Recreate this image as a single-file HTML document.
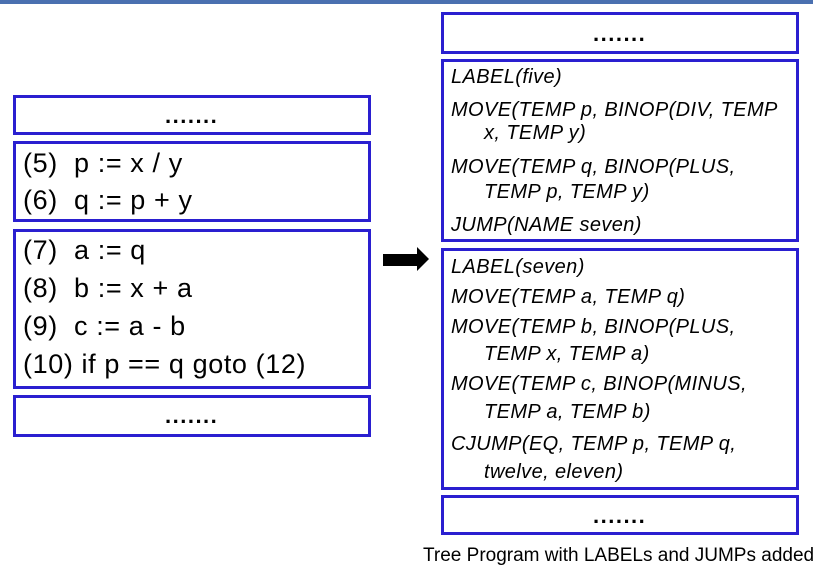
<!DOCTYPE html>
<html><head><meta charset="utf-8"><style>
body{margin:0;width:813px;height:570px;background:#fff;position:relative;overflow:hidden;font-family:"Liberation Sans",sans-serif}
.bar{position:absolute;left:0;top:0;width:813px;height:4px;background:#4a70b0}
.b{position:absolute;border:3px solid #2a1fd0;box-sizing:border-box}
.l{position:absolute;font-size:27px;letter-spacing:0.6px;color:#000;white-space:nowrap;line-height:30px}
.r{position:absolute;font-size:20px;letter-spacing:0.4px;font-style:italic;color:#000;white-space:nowrap;line-height:24px}
.d{position:absolute;font-size:22px;font-weight:bold;letter-spacing:1.5px;line-height:22px}
</style></head><body>
<div class="bar"></div>
<div class="b" style="left:13px;top:95px;width:358px;height:40px"></div>
<div class="b" style="left:13px;top:141px;width:358px;height:81px"></div>
<div class="b" style="left:13px;top:229px;width:358px;height:160px"></div>
<div class="b" style="left:13px;top:395px;width:358px;height:42px"></div>
<div class="d" style="left:165px;top:105px">.......</div>
<div class="l" style="left:23px;top:148px">(5)&nbsp; p := x / y</div>
<div class="l" style="left:23px;top:185px">(6)&nbsp; q := p + y</div>
<div class="l" style="left:23px;top:235px">(7)&nbsp; a := q</div>
<div class="l" style="left:23px;top:273px">(8)&nbsp; b := x + a</div>
<div class="l" style="left:23px;top:311px">(9)&nbsp; c := a - b</div>
<div class="l" style="left:23px;top:349px">(10) if p == q goto (12)</div>
<div class="d" style="left:165px;top:405px">.......</div>

<div style="position:absolute;left:383px;top:254px;width:35px;height:12px;background:#000"></div>
<div style="position:absolute;left:417px;top:247px;width:0;height:0;border-top:12.5px solid transparent;border-bottom:12.5px solid transparent;border-left:12px solid #000"></div>

<div class="b" style="left:441px;top:12px;width:358px;height:42px"></div>
<div class="b" style="left:441px;top:59px;width:358px;height:183px"></div>
<div class="b" style="left:441px;top:248px;width:358px;height:242px"></div>
<div class="b" style="left:441px;top:495px;width:358px;height:40px"></div>
<div class="d" style="left:593px;top:23px">.......</div>
<div class="r" style="left:451px;top:65px">LABEL(five)</div>
<div class="r" style="left:451px;top:98px">MOVE(TEMP p, BINOP(DIV, TEMP</div>
<div class="r" style="left:484px;top:121px">x, TEMP y)</div>
<div class="r" style="left:451px;top:155px">MOVE(TEMP q, BINOP(PLUS,</div>
<div class="r" style="left:484px;top:180px">TEMP p, TEMP y)</div>
<div class="r" style="left:451px;top:213px">JUMP(NAME seven)</div>
<div class="r" style="left:451px;top:255px">LABEL(seven)</div>
<div class="r" style="left:451px;top:285px">MOVE(TEMP a, TEMP q)</div>
<div class="r" style="left:451px;top:315px">MOVE(TEMP b, BINOP(PLUS,</div>
<div class="r" style="left:484px;top:342px">TEMP x, TEMP a)</div>
<div class="r" style="left:451px;top:372px">MOVE(TEMP c, BINOP(MINUS,</div>
<div class="r" style="left:484px;top:400px">TEMP a, TEMP b)</div>
<div class="r" style="left:451px;top:432px">CJUMP(EQ, TEMP p, TEMP q,</div>
<div class="r" style="left:484px;top:460px">twelve, eleven)</div>
<div class="d" style="left:593px;top:505px">.......</div>
<div style="position:absolute;left:423px;top:545px;font-size:19px;white-space:nowrap">Tree Program with LABELs and JUMPs added</div>
</body></html>
